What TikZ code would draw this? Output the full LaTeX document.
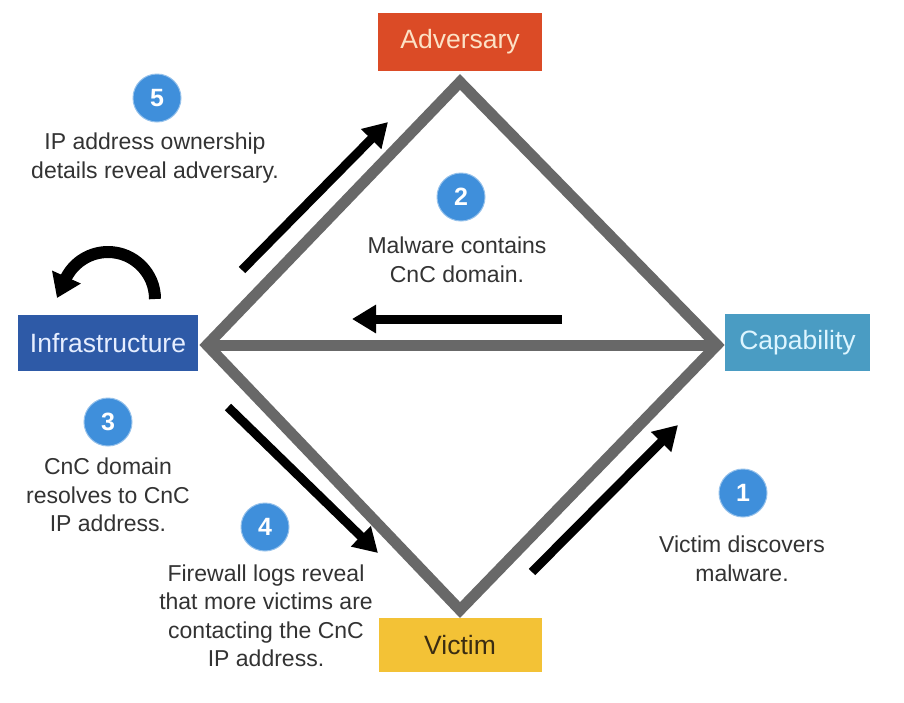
\documentclass[tikz,border=0pt]{standalone}
\usepackage{fontspec}
\setmainfont{Liberation Sans}
\usetikzlibrary{arrows.meta}
\definecolor{advc}{HTML}{DB4B26}
\definecolor{advt}{HTML}{FCE2C6}
\definecolor{infc}{HTML}{2E5AA7}
\definecolor{inft}{HTML}{E6EEFF}
\definecolor{capc}{HTML}{4A9CC3}
\definecolor{capt}{HTML}{DDF5FF}
\definecolor{vicc}{HTML}{F3C236}
\definecolor{vict}{HTML}{3A2C12}
\definecolor{numc}{HTML}{3F8FDB}
\definecolor{edgec}{HTML}{686868}
\definecolor{txtc}{HTML}{333333}
\begin{document}
\begin{tikzpicture}[x=1pt,y=-1pt,
  box/.style={rectangle, inner sep=0pt, font=\fontsize{26.5}{30}\selectfont},
  num/.style={circle, fill=numc, draw=numc!55!white, line width=1pt, minimum size=48pt, inner sep=0pt, text=white, font=\fontsize{25}{28}\selectfont\bfseries},
  desc/.style={align=center, text=txtc, inner sep=0pt, font=\fontsize{23}{28.5}\selectfont},
  edgeline/.style={line width=11pt, draw=edgec, line join=miter},
  flowarrow/.style={line width=9pt, draw=black, -{Triangle[length=24pt,width=27pt]}},
  looparrow/.style={line width=12pt, draw=black, -{Triangle[length=23pt,width=30pt]}}
]
\useasboundingbox[fill=white] (0,0) rectangle (904,702);

% diamond vertices
\coordinate (T) at (460,82);
\coordinate (L) at (207,345);
\coordinate (R) at (717,345);
\coordinate (B) at (460,610);

\draw[edgeline] (T) -- (R) -- (B) -- (L) -- cycle;
\draw[edgeline] (L) -- (R);

% boxes
\node[box, fill=advc, text=advt, minimum width=164pt, minimum height=58pt] (adv) at (460,42) {Adversary};
\node[box, fill=infc, text=inft, minimum width=180pt, minimum height=56pt] (inf) at (108,343) {Infrastructure};
\node[box, fill=capc, text=capt, minimum width=145pt, minimum height=57pt] (cap) at (797.5,342.5) {Capability};
\node[box, fill=vicc, text=vict, minimum width=163pt, minimum height=54pt] (vic) at (460,645) {Victim};

% numbers
\node[num] (n5) at (157,98) {5};
\node[num] (n2) at (461,197) {2};
\node[num] (n3) at (108,422) {3};
\node[num] (n4) at (265,527) {4};
\node[num] (n1) at (743,493) {1};

% descriptions
\node[desc] (d5) at (155,158) {IP address ownership\\details reveal adversary.};
\node[desc] (d2) at (457,260) {Malware contains\\CnC domain.};
\node[desc] (d3) at (108,495) {CnC domain\\resolves to CnC\\IP address.};
\node[desc] (d4) at (266,616) {Firewall logs reveal\\that more victims are\\contacting the CnC\\IP address.};
\node[desc] (d1) at (742,559) {Victim discovers\\malware.};

% arrows
\coordinate (a5s) at (242,270); \coordinate (a5e) at (388,122);
\coordinate (a2s) at (562,319); \coordinate (a2e) at (352,319);
\coordinate (a3s) at (228,407); \coordinate (a3e) at (378,553);
\coordinate (a1s) at (532,572); \coordinate (a1e) at (678,425);
\draw[flowarrow] (a5s) -- (a5e);
\draw[flowarrow] (a2s) -- (a2e);
\draw[flowarrow] (a3s) -- (a3e);
\draw[flowarrow] (a1s) -- (a1e);

% loop arrow above Infrastructure
\coordinate (ls) at (155,299);
\coordinate (le) at (57,298);
\draw[looparrow] (ls) arc[start angle=0, end angle=152, radius=47pt] -- (le);
\end{tikzpicture}
\end{document}
